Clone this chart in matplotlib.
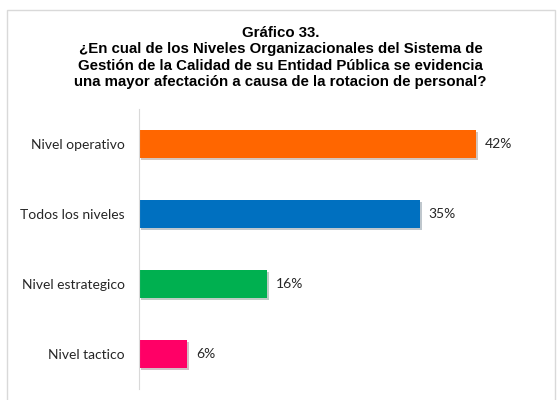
import matplotlib
matplotlib.use("Agg")
import matplotlib.pyplot as plt
import matplotlib.patheffects as pe
from matplotlib.patches import Rectangle

categories = ["Nivel tactico", "Nivel estrategico", "Todos los niveles", "Nivel operativo"]
values = [6, 16, 35, 42]
colors = ["#FF0066", "#00B050", "#0070C0", "#FF6600"]
title = ("Gráfico 33.\n"
         "¿En cual de los Niveles Organizacionales del Sistema de\n"
         "Gestión de la Calidad de su Entidad Pública se evidencia\n"
         "una mayor afectación a causa de la rotacion de personal?")

fig = plt.figure(figsize=(5.58, 4.0), dpi=100)
fig.patches.append(Rectangle((7 / 558, -0.01), 548 / 558, 0.985, transform=fig.transFigure,
                             fill=False, edgecolor="#D9D9D9", linewidth=1))

ax = fig.add_axes([139 / 558, 11 / 400, 401 / 558, 280 / 400])
bars = ax.barh(range(len(categories)), values, height=0.4, color=colors,
               path_effects=[pe.SimplePatchShadow(offset=(1.5, -1.5), alpha=0.25), pe.Normal()])
ax.set_xlim(0, 50)
ax.set_ylim(-0.5, len(categories) - 0.5)
ax.set_yticks(range(len(categories)))
ax.set_yticklabels(categories, fontsize=10, family="Lato", color="#262626")
ax.tick_params(axis="y", length=0, pad=10)
ax.set_xticks([])
for s in ["top", "right", "bottom"]:
    ax.spines[s].set_visible(False)
ax.spines["left"].set_color("#D9D9D9")

for b, v in zip(bars, values):
    ax.text(b.get_width() + 1.1, b.get_y() + b.get_height() / 2, f"{v}%",
            va="center", ha="left", fontsize=10, family="Lato", color="#262626")

fig.text(0.503, 0.935, title, ha="center", va="top", fontsize=10.8, fontweight="bold",
         family="Liberation Sans", linespacing=1.22)

fig.savefig("out.png", dpi=100)
